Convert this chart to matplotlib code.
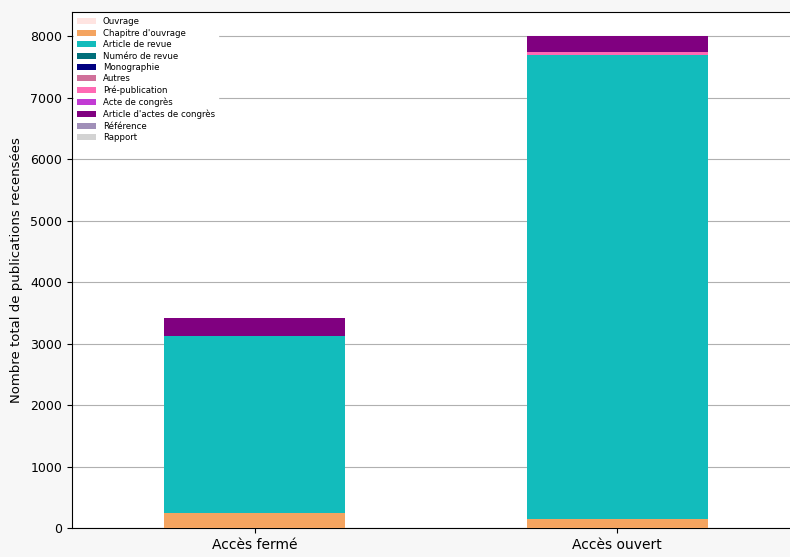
import matplotlib
matplotlib.use("Agg")
import matplotlib.pyplot as plt
import numpy as np

categories = ["Accès fermé", "Accès ouvert"]
types = ["Ouvrage", "Chapitre d'ouvrage", "Article de revue", "Numéro de revue",
         "Monographie", "Autres", "Pré-publication", "Acte de congrès",
         "Article d'actes de congrès", "Référence", "Rapport"]
colors = ["#ffe4e1", "#f4a460", "#12bcbc", "#006f7a", "#000080", "#d0709a",
          "#ff69b4", "#c23bd4", "#800080", "#a08fb8", "#d3d3d3"]

ouvrage = [0, 0]
chapitre = [250, 140]
article_revue = [2877, 7560]
numero_revue = [0, 0]
monographie = [0, 0]
autres = [0, 0]
prepub = [0, 45]
acte_congres = [0, 0]
article_actes = [283, 255]
reference = [0, 0]
rapport = [0, 0]

series = [ouvrage, chapitre, article_revue, numero_revue, monographie, autres,
          prepub, acte_congres, article_actes, reference, rapport]

fig = plt.figure(figsize=(7.9, 5.57), dpi=100)
fig.patch.set_facecolor("#f7f7f7")
ax = fig.add_axes([0.091, 0.052, 0.929, 0.926])
ax.set_facecolor("white")

x = np.arange(len(categories))
bottom = np.zeros(len(categories))
for name, vals, c in zip(types, series, colors):
    ax.bar(x, vals, 0.5, bottom=bottom, color=c, label=name, zorder=3)
    bottom += np.array(vals)

ax.set_xticks(x)
ax.set_xticklabels(categories, fontsize=10)
ax.set_xlim(-0.5055, 1.521)
ax.set_ylim(0, 8390)
ax.set_yticks(np.arange(0, 8001, 1000))
ax.tick_params(axis='y', labelsize=9)
ax.yaxis.grid(True, color="#b0b0b0", linewidth=0.8, zorder=0)
ax.set_axisbelow(True)
ax.set_ylabel("Nombre total de publications recensées", fontsize=9.5, labelpad=5)
ax.spines["right"].set_visible(False)

leg = ax.legend(loc="upper left", fontsize=6.2, frameon=True, fancybox=False,
                edgecolor="white", framealpha=1.0, borderaxespad=0.2,
                labelspacing=0.28, handlelength=2.2)

fig.savefig("out.png", dpi=100, facecolor=fig.get_facecolor())
